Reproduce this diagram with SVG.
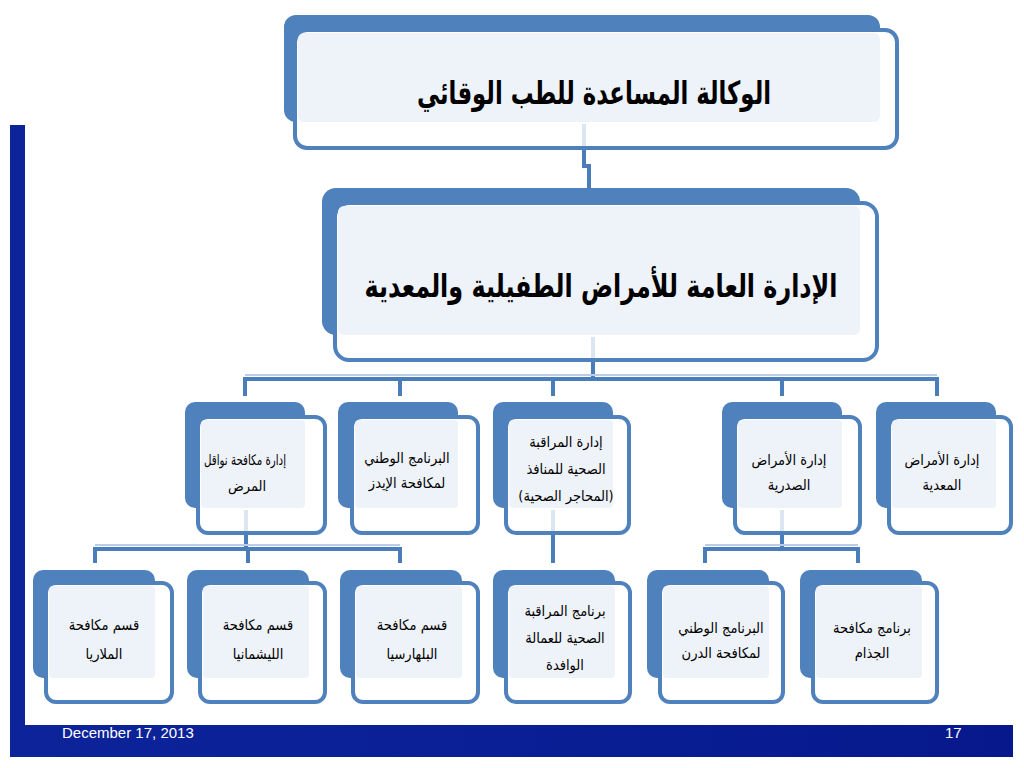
<svg xmlns="http://www.w3.org/2000/svg" width="1024" height="768" viewBox="0 0 1024 768">
<defs>
<linearGradient id="bar" x1="0" y1="0" x2="1" y2="0">
<stop offset="0" stop-color="#0C2399"/>
<stop offset="0.5" stop-color="#0A1F95"/>
<stop offset="1" stop-color="#06188C"/>
</linearGradient>
<style>
.back{fill:#4F81BD}
.front{fill:#FFFFFF;stroke:#4F81BD;stroke-width:4}
.light{fill:#EEF2F9}
.con{fill:none;stroke:#4A7EBB;stroke-width:4}
.conl{fill:none;stroke:#B9CDE5;stroke-width:2}
.faint{fill:none;stroke:#DCE6F2;stroke-width:4}
.big{font-family:'DejaVu Sans',sans-serif;font-weight:bold;font-size:32px;fill:#000;text-anchor:middle}
.sm{font-family:'DejaVu Sans Condensed','DejaVu Sans',sans-serif;font-size:14.5px;fill:#000;text-anchor:middle}
.foot{font-family:'Liberation Sans',Arial,sans-serif;font-size:15px;fill:#FFFFFF}
</style>
</defs>
<rect width="1024" height="768" fill="#FFFFFF"/>
<path d="M10 125 H25 V725 H1013 V757 H10 Z" fill="url(#bar)"/>
<text class="foot" x="62" y="738">December 17, 2013</text>
<text class="foot" x="945" y="738">17</text>

<g id="n0">
<rect class="back" x="284" y="15" width="596" height="107" rx="12"/>
<rect class="front" x="295" y="30" width="602" height="118" rx="12"/>
<rect class="light" x="298" y="33" width="582" height="89" rx="6"/>
<text class="big" direction="rtl" x="594" y="104" textLength="354" lengthAdjust="spacingAndGlyphs">الوكالة المساعدة للطب الوقائي</text>
</g>
<g id="n1">
<rect class="back" x="322" y="188" width="538" height="147" rx="14"/>
<rect class="front" x="335" y="203" width="542" height="157" rx="14"/>
<rect class="light" x="338" y="206" width="522" height="129" rx="6"/>
<text class="big" direction="rtl" x="601" y="297" textLength="473" lengthAdjust="spacingAndGlyphs">الإدارة العامة للأمراض الطفيلية والمعدية</text>
</g>

<g id="a1">
<rect class="back" x="185" y="402" width="120" height="106" rx="10"/>
<rect class="front" x="198" y="417" width="127" height="116" rx="10"/>
<rect class="light" x="201" y="420" width="104" height="88" rx="4"/>
<text class="sm" direction="rtl" x="245" y="465" textLength="82" lengthAdjust="spacingAndGlyphs">إدارة مكافحة نواقل</text>
<text class="sm" direction="rtl" x="247" y="491">المرض</text>
</g>
<g id="a2">
<rect class="back" x="338" y="402" width="120" height="106" rx="10"/>
<rect class="front" x="352" y="417" width="126" height="116" rx="10"/>
<rect class="light" x="355" y="420" width="103" height="88" rx="4"/>
<text class="sm" direction="rtl" x="407" y="463">البرنامج الوطني</text>
<text class="sm" direction="rtl" x="407" y="488">لمكافحة الإيدز</text>
</g>
<g id="a3">
<rect class="back" x="493" y="402" width="120" height="106" rx="10"/>
<rect class="front" x="506" y="417" width="123" height="116" rx="10"/>
<rect class="light" x="509" y="420" width="104" height="88" rx="4"/>
<text class="sm" direction="rtl" x="566" y="447">إدارة المراقبة</text>
<text class="sm" direction="rtl" x="566" y="474">الصحية للمنافذ</text>
<text class="sm" direction="rtl" x="566" y="501">(المحاجر الصحية)</text>
</g>
<g id="a4">
<rect class="back" x="722" y="402" width="120" height="106" rx="10"/>
<rect class="front" x="735" y="417" width="125" height="116" rx="10"/>
<rect class="light" x="738" y="420" width="104" height="88" rx="4"/>
<text class="sm" direction="rtl" x="789" y="465">إدارة الأمراض</text>
<text class="sm" direction="rtl" x="789" y="490">الصدرية</text>
</g>
<g id="a5">
<rect class="back" x="876" y="402" width="120" height="106" rx="10"/>
<rect class="front" x="889" y="417" width="122" height="116" rx="10"/>
<rect class="light" x="892" y="420" width="104" height="88" rx="4"/>
<text class="sm" direction="rtl" x="942" y="465">إدارة الأمراض</text>
<text class="sm" direction="rtl" x="942" y="490">المعدية</text>
</g>

<g id="b1">
<rect class="back" x="33" y="570" width="122" height="108" rx="10"/>
<rect class="front" x="46" y="583" width="126" height="119" rx="10"/>
<rect class="light" x="49" y="586" width="106" height="92" rx="4"/>
<text class="sm" direction="rtl" x="104" y="630">قسم مكافحة</text>
<text class="sm" direction="rtl" x="104" y="659">الملاريا</text>
</g>
<g id="b2">
<rect class="back" x="187" y="570" width="122" height="108" rx="10"/>
<rect class="front" x="200" y="583" width="125" height="119" rx="10"/>
<rect class="light" x="203" y="586" width="106" height="92" rx="4"/>
<text class="sm" direction="rtl" x="258" y="630">قسم مكافحة</text>
<text class="sm" direction="rtl" x="258" y="659">الليشمانيا</text>
</g>
<g id="b3">
<rect class="back" x="340" y="570" width="122" height="108" rx="10"/>
<rect class="front" x="353" y="583" width="125" height="119" rx="10"/>
<rect class="light" x="356" y="586" width="106" height="92" rx="4"/>
<text class="sm" direction="rtl" x="412" y="630">قسم مكافحة</text>
<text class="sm" direction="rtl" x="412" y="659">البلهارسيا</text>
</g>
<g id="b4">
<rect class="back" x="493" y="570" width="122" height="108" rx="10"/>
<rect class="front" x="506" y="583" width="124" height="119" rx="10"/>
<rect class="light" x="509" y="586" width="106" height="92" rx="4"/>
<text class="sm" direction="rtl" x="565" y="616">برنامج المراقبة</text>
<text class="sm" direction="rtl" x="565" y="643">الصحية للعمالة</text>
<text class="sm" direction="rtl" x="565" y="670">الوافدة</text>
</g>
<g id="b5">
<rect class="back" x="647" y="570" width="122" height="108" rx="10"/>
<rect class="front" x="660" y="583" width="123" height="119" rx="10"/>
<rect class="light" x="663" y="586" width="106" height="92" rx="4"/>
<text class="sm" direction="rtl" x="721" y="633">البرنامج الوطني</text>
<text class="sm" direction="rtl" x="721" y="658">لمكافحة الدرن</text>
</g>
<g id="b6">
<rect class="back" x="800" y="570" width="122" height="108" rx="10"/>
<rect class="front" x="813" y="583" width="124" height="119" rx="10"/>
<rect class="light" x="816" y="586" width="106" height="92" rx="4"/>
<text class="sm" direction="rtl" x="872" y="633">برنامج مكافحة</text>
<text class="sm" direction="rtl" x="872" y="658">الجذام</text>
</g>

<g id="connectors">
<path class="faint" d="M584 124 V146 M593 337 V358 M246 510 V531 M553 510 V531 M782 510 V531"/>
<path class="con" d="M584 150 V166 H589 V188"/>
<path class="con" d="M593 362 V379"/>
<path class="conl" d="M245 375 H937"/>
<path class="con" d="M245 379 H937 M245 377 V396 M400 377 V396 M553 377 V396 M782 377 V396 M937 377 V396"/>
<path class="con" d="M246 535 V549"/>
<path class="conl" d="M95 545 H400"/>
<path class="con" d="M95 549 H400 M95 547 V563 M248 547 V563 M400 547 V563"/>
<path class="con" d="M553 535 V563"/>
<path class="con" d="M782 535 V549"/>
<path class="conl" d="M705 545 H858"/>
<path class="con" d="M705 549 H858 M705 547 V563 M858 547 V563"/>
</g>
</svg>
